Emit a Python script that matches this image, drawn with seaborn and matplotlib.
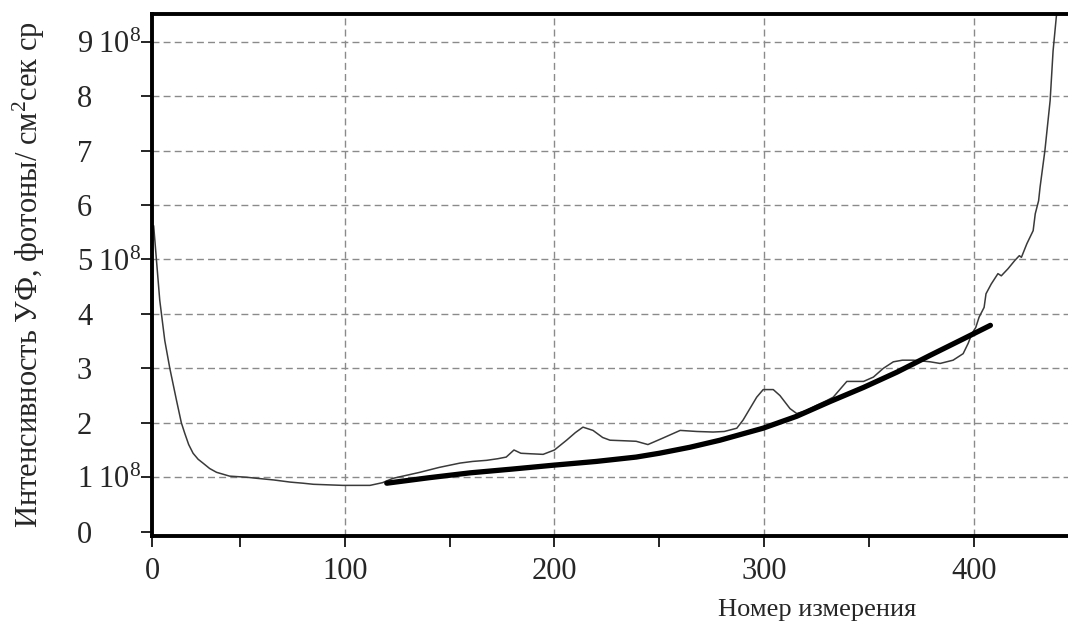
import matplotlib
matplotlib.use("Agg")
import matplotlib.pyplot as plt
import seaborn as sns
import pandas as pd

# measured UV intensity (units of 1e8 photons / cm^2 s sr)
meas_x = [8.8, 10.1, 11.7, 14.1, 16.5, 19.7, 22, 23.6, 25.5, 27.6, 30, 32.3, 35.5, 38.8, 45, 53, 58,
          66, 74, 80, 85, 92, 99, 106, 112, 118, 123, 130, 135.8, 145, 155, 161, 167.6, 173, 177,
          180.7, 184, 189, 194.6, 200, 205.8, 210, 213.6, 218.4, 223, 226.5, 233, 239, 244.6,
          251.8, 260, 268, 275.7, 281, 287, 290, 296.5, 299.6, 304.4, 307.6, 312.4, 315.6, 320,
          325, 330, 333, 339.5, 347.5, 352.2, 356.9, 361.7, 366, 371.3, 379.3, 384, 390.2, 395,
          397.4, 399.2, 401, 402.6, 405, 405.9, 408.4, 411.6, 413.2, 416.4, 419.6, 421.8, 422.8,
          425.4, 428.4, 429.4, 431, 431.7, 434, 436.5, 437.9, 439.8]
meas_y = [5.62, 5.0, 4.25, 3.51, 3.0, 2.41, 2.0, 1.81, 1.6, 1.44, 1.33, 1.26, 1.16, 1.09, 1.02, 1.0,
          0.98, 0.95, 0.91, 0.89, 0.87, 0.86, 0.85, 0.85, 0.85, 0.9, 0.98, 1.04, 1.09, 1.18, 1.26,
          1.29, 1.31, 1.34, 1.37, 1.5, 1.44, 1.43, 1.42, 1.5, 1.68, 1.82, 1.92, 1.86, 1.73, 1.68,
          1.67, 1.66, 1.6, 1.72, 1.86, 1.84, 1.83, 1.84, 1.9, 2.05, 2.47, 2.61, 2.61, 2.5, 2.26,
          2.17, 2.22, 2.32, 2.41, 2.47, 2.76, 2.76, 2.84, 3.0, 3.12, 3.15, 3.15, 3.12, 3.09, 3.15,
          3.27, 3.46, 3.64, 3.75, 3.94, 4.12, 4.37, 4.55, 4.74, 4.7, 4.83, 4.98, 5.07, 5.04, 5.29,
          5.53, 5.84, 6.08, 6.33, 7.0, 7.92, 8.83, 9.6]

# fitted trend (thick line)
fit_x = [120, 140, 159.7, 180, 199.3, 220, 239, 250, 264.6, 279, 299.5, 315.6, 331.5, 347.5, 363.4,
         379.3, 395, 408]
fit_y = [0.89, 0.99, 1.08, 1.15, 1.22, 1.29, 1.37, 1.44, 1.55, 1.68, 1.9, 2.12, 2.39, 2.65, 2.93,
         3.24, 3.54, 3.79]

xtick_pos = [8, 100, 200, 300, 400]
xtick_labels = ["0", "100", "200", "300", "400"]
xminor_pos = [50, 150, 250, 350]
ytick_pos = [0, 1, 2, 3, 4, 5, 6, 7, 8, 9]
ytick_labels = ["0", r"$1\;10^{8}$", "2", "3", "4", r"$5\;10^{8}$", "6", "7", "8", r"$9\;10^{8}$"]

sns.set_theme(style="white")
plt.rcParams["font.family"] = ["Liberation Serif", "DejaVu Serif"]
plt.rcParams["mathtext.fontset"] = "custom"
plt.rcParams["mathtext.rm"] = "Liberation Serif"
plt.rcParams["mathtext.it"] = "Liberation Serif:italic"

fig = plt.figure(figsize=(10.68, 6.21), dpi=100)
ax = fig.add_axes([152 / 1068, 1 - 536 / 621, (1069 - 152) / 1068, (536 - 14) / 621])

df_m = pd.DataFrame({"x": meas_x, "y": meas_y})
df_f = pd.DataFrame({"x": fit_x, "y": fit_y})
sns.lineplot(data=df_m, x="x", y="y", ax=ax, color="#3a3a3a", linewidth=1.1, sort=False)
sns.lineplot(data=df_f, x="x", y="y", ax=ax, color="black", linewidth=3.8, sort=False)

ax.set_xlim(8, 445.5)
ax.set_ylim(-0.08, 9.51)

ax.set_xticks(xtick_pos)
ax.set_xticklabels(xtick_labels, fontsize=22)
ax.set_xticks(xminor_pos, minor=True)
ax.set_yticks(ytick_pos)
ax.set_yticklabels(ytick_labels, fontsize=22, ha="left")

ax.tick_params(axis="x", which="both", direction="out", length=8, width=1.2, color="black",
               bottom=True, pad=7)
ax.tick_params(axis="y", which="major", direction="out", length=8, width=1.2, color="black",
               left=True, pad=46)

# grid
for xv in [100, 200, 300, 400]:
    ax.axvline(xv, color="#8a8a8a", linewidth=1.0, linestyle=(0, (5, 3)), zorder=0)
for yv in range(1, 10):
    ax.axhline(yv, color="#8a8a8a", linewidth=1.0, linestyle=(0, (5, 3)), zorder=0)

for s in ["left", "bottom", "top"]:
    ax.spines[s].set_visible(True)
    ax.spines[s].set_color("black")
    ax.spines[s].set_linewidth(2.8)
ax.spines["right"].set_visible(False)

ax.set_xlabel("Номер измерения", fontsize=19)
ax.xaxis.set_label_coords((817 - 152) / 917, -0.12)
ax.set_ylabel("Интенсивность УФ, фотоны/ см$^{2}$сек ср", fontsize=22)
ax.yaxis.set_label_coords(-0.115, 0.5)

fig.savefig("out.png", dpi=100)
